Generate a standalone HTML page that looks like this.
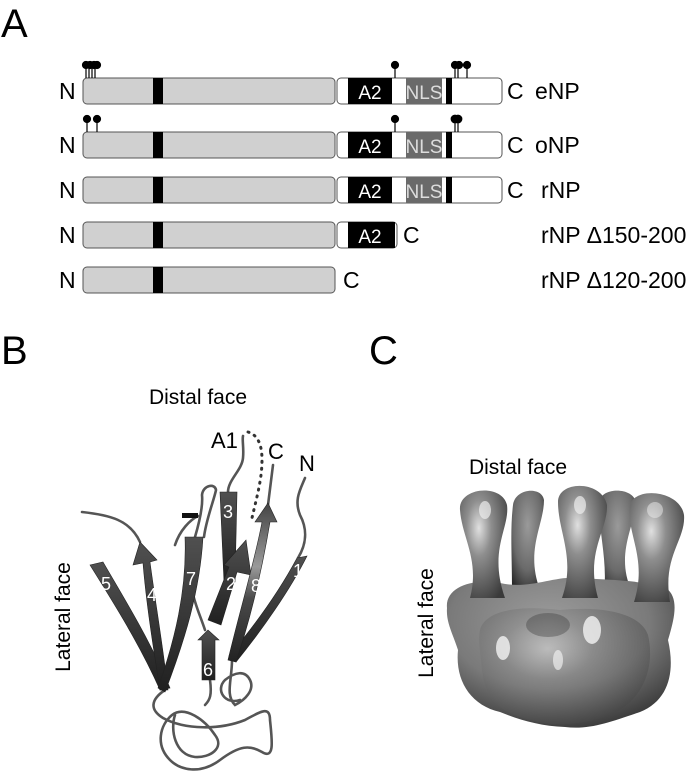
<!DOCTYPE html>
<html><head><meta charset="utf-8"><style>
body{margin:0;background:#fff}
svg{display:block}
text{font-family:"Liberation Sans",sans-serif}
</style></head><body>
<svg width="697" height="784" viewBox="0 0 697 784" xmlns="http://www.w3.org/2000/svg">
<defs>
<radialGradient id="g1" cx="0.4" cy="0.35" r="0.75"><stop offset="0" stop-color="#e0e0e0"/><stop offset="0.35" stop-color="#8e8e8e"/><stop offset="1" stop-color="#3a3a3a"/></radialGradient>
<radialGradient id="g2" cx="0.5" cy="0.35" r="0.75"><stop offset="0" stop-color="#9a9a9a"/><stop offset="0.6" stop-color="#6a6a6a"/><stop offset="1" stop-color="#252525"/></radialGradient>
<radialGradient id="g3" cx="0.45" cy="0.3" r="0.8"><stop offset="0" stop-color="#9c9c9c"/><stop offset="0.55" stop-color="#7a7a7a"/><stop offset="1" stop-color="#2a2a2a"/></radialGradient>
<linearGradient id="sg" x1="0" y1="0" x2="0" y2="1"><stop offset="0" stop-color="#505050"/><stop offset="1" stop-color="#202020"/></linearGradient>
<linearGradient id="s8" x1="0" y1="0" x2="0" y2="1"><stop offset="0" stop-color="#444"/><stop offset="0.4" stop-color="#9a9a9a"/><stop offset="0.6" stop-color="#4a4a4a"/><stop offset="1" stop-color="#222"/></linearGradient>
</defs>

<text x="1" y="37" font-size="40">A</text>
<text x="1" y="364" font-size="40">B</text>
<text x="369" y="364" font-size="40">C</text>

<g font-size="23">
<g>
<rect x="83" y="78" width="252" height="26" rx="4" fill="#d0d0d0" stroke="#555"/>
<rect x="153" y="78" width="10" height="26" fill="#000"/>
<rect x="337" y="78" width="165" height="26" rx="4" fill="#fff" stroke="#555"/>
<rect x="348" y="78" width="44" height="26" fill="#000"/>
<rect x="406" y="78" width="36" height="26" fill="#6a6a6a"/>
<rect x="446" y="78" width="6" height="26" fill="#000"/>
<text x="370" y="99" fill="#fff" text-anchor="middle" font-size="19">A2</text>
<text x="424" y="99" fill="#ddd" text-anchor="middle" font-size="19">NLS</text>
<text x="59" y="99">N</text><text x="507" y="99">C</text><text x="535" y="99">eNP</text>
</g>
<g>
<rect x="83" y="132" width="252" height="26" rx="4" fill="#d0d0d0" stroke="#555"/>
<rect x="153" y="132" width="10" height="26" fill="#000"/>
<rect x="337" y="132" width="165" height="26" rx="4" fill="#fff" stroke="#555"/>
<rect x="348" y="132" width="44" height="26" fill="#000"/>
<rect x="406" y="132" width="36" height="26" fill="#6a6a6a"/>
<rect x="446" y="132" width="6" height="26" fill="#000"/>
<text x="370" y="153" fill="#fff" text-anchor="middle" font-size="19">A2</text>
<text x="424" y="153" fill="#ddd" text-anchor="middle" font-size="19">NLS</text>
<text x="59" y="153">N</text><text x="507" y="153">C</text><text x="535" y="153">oNP</text>
</g>
<g>
<rect x="83" y="177" width="252" height="26" rx="4" fill="#d0d0d0" stroke="#555"/>
<rect x="153" y="177" width="10" height="26" fill="#000"/>
<rect x="337" y="177" width="165" height="26" rx="4" fill="#fff" stroke="#555"/>
<rect x="348" y="177" width="44" height="26" fill="#000"/>
<rect x="406" y="177" width="36" height="26" fill="#6a6a6a"/>
<rect x="446" y="177" width="6" height="26" fill="#000"/>
<text x="370" y="198" fill="#fff" text-anchor="middle" font-size="19">A2</text>
<text x="424" y="198" fill="#ddd" text-anchor="middle" font-size="19">NLS</text>
<text x="59" y="198">N</text><text x="507" y="198">C</text><text x="541" y="198">rNP</text>
</g>
<g>
<rect x="83" y="222" width="252" height="26" rx="4" fill="#d0d0d0" stroke="#555"/>
<rect x="153" y="222" width="10" height="26" fill="#000"/>
<rect x="337" y="222" width="60" height="26" rx="4" fill="#fff" stroke="#555"/>
<rect x="348" y="222" width="47" height="26" fill="#000"/>
<text x="370" y="243" fill="#fff" text-anchor="middle" font-size="19">A2</text>
<text x="59" y="243">N</text><text x="403" y="243">C</text><text x="541" y="243">rNP Δ150-200</text>
</g>
<g>
<rect x="83" y="267" width="252" height="26" rx="4" fill="#d0d0d0" stroke="#555"/>
<rect x="153" y="267" width="10" height="26" fill="#000"/>
<text x="59" y="288">N</text><text x="343" y="288">C</text><text x="541" y="288">rNP Δ120-200</text>
</g>
</g>
<g stroke="#000" stroke-width="1.2" fill="#000">
<line x1="86" y1="66" x2="86" y2="78"/><line x1="89" y1="66" x2="89" y2="78"/><line x1="92" y1="66" x2="92" y2="78"/><line x1="95" y1="66" x2="95" y2="78"/>
<circle cx="86" cy="65" r="3.5"/><circle cx="90" cy="65" r="3.5"/><circle cx="94" cy="65" r="3.5"/><circle cx="97" cy="65" r="3.5"/>
<line x1="395" y1="66" x2="395" y2="78"/><circle cx="395" cy="65" r="3.5"/>
<line x1="455" y1="66" x2="455" y2="78"/><line x1="458" y1="66" x2="458" y2="78"/><line x1="467" y1="66" x2="467" y2="78"/>
<circle cx="455" cy="65" r="3.5"/><circle cx="459" cy="65" r="3.5"/><circle cx="467" cy="65" r="3.5"/>
<line x1="87" y1="120" x2="87" y2="132"/><line x1="97" y1="120" x2="97" y2="132"/>
<circle cx="87" cy="119" r="3.5"/><circle cx="97" cy="119" r="3.5"/>
<line x1="395" y1="120" x2="395" y2="132"/><circle cx="395" cy="119" r="3.5"/>
<line x1="455" y1="120" x2="455" y2="132"/><line x1="458" y1="120" x2="458" y2="132"/>
<circle cx="455" cy="119" r="3.8"/><circle cx="458" cy="119" r="3.8"/>
</g>

<!-- Panel B -->
<text x="198" y="404" font-size="21" text-anchor="middle">Distal face</text>
<text transform="translate(70,617) rotate(-90)" font-size="21" text-anchor="middle">Lateral face</text>
<text x="211" y="448" font-size="22">A1</text>
<text x="268" y="459" font-size="22">C</text>
<text x="299" y="471" font-size="22">N</text>
<g fill="none" stroke="#555" stroke-width="2.6" stroke-linecap="round">
<path d="M228 492 C228 480 242 470 243 458 C244 448 242 440 243 436"/>
<path d="M268 505 L273 465"/>
<path d="M298 558 C306 545 308 530 300 515 C294 500 300 490 305 478"/>
<path d="M140 542 C130 520 110 515 82 512"/>
<path d="M195 537 C200 520 203 505 202 495 C203 485 215 483 216 490 C214 500 206 520 204 537"/>
<path d="M175 545 C180 530 190 520 198 516"/>
<path d="M165 690 C150 700 150 710 163 718 C185 730 220 730 245 720 C260 712 270 705 270 720 C272 740 275 760 262 752 C250 745 240 745 220 760 C200 775 180 770 170 760 C155 745 160 725 172 715 C185 705 205 720 215 735 C225 748 210 758 195 757 C175 755 170 730 175 715"/>
<path d="M210 680 C212 695 210 700 205 705"/>
<path d="M232 660 C232 680 225 695 235 705 C245 700 255 690 250 680 C245 670 235 672 225 680 C215 690 225 705 240 700"/>
<path d="M205 630 C200 615 195 605 192 590"/>
</g>
<rect x="182" y="513" width="16" height="5" fill="#111"/>
<path d="M248 432 C258 435 262 445 262 460 C262 480 256 500 252 518" fill="none" stroke="#333" stroke-width="3" stroke-dasharray="1 6" stroke-linecap="round"/>
<g fill="url(#sg)" stroke="#222" stroke-width="0.6">
<path d="M90 565 L103 562 C125 600 150 640 170 688 L160 690 C140 645 115 605 90 565 Z"/>
<path d="M140 542 L157 560 L150 562 C155 600 162 640 168 690 L160 690 C152 640 146 600 143 563 L133 565 Z"/>
<path d="M185 537 L203 537 C200 590 185 640 165 692 L158 688 C175 640 187 590 185 537 Z"/>
<path d="M220 492 L237 492 L235 582 L224 582 Z"/>
<path d="M208 620 L221 625 L237 572 L251 575 L246 540 L224 565 L229 567 Z"/>
<path d="M297 558 L307 556 C290 590 262 630 236 662 L229 656 C255 625 280 590 297 558 Z"/>
<path d="M202 680 L215 680 L215 640 L219 640 L208 630 L198 640 L202 640 Z"/>
</g>
<path d="M228 660 C240 610 255 560 262 522 L255 522 L268 503 L277 522 L270 522 C262 570 250 620 236 662 Z" fill="url(#s8)" stroke="#222" stroke-width="0.6"/>
<g fill="#fff" font-size="18" text-anchor="middle">
<text x="106" y="590">5</text><text x="152" y="601">4</text><text x="191" y="585">7</text>
<text x="228" y="518">3</text><text x="231" y="590">2</text><text x="256" y="592">8</text>
<text x="298" y="577">1</text><text x="208" y="676">6</text>
</g>

<!-- Panel C -->
<text x="518" y="474" font-size="21" text-anchor="middle">Distal face</text>
<text transform="translate(433,623) rotate(-90)" font-size="21" text-anchor="middle">Lateral face</text>
<g>
<path d="M513 505 C515 488 542 486 544 500 C544 525 525 550 540 590 L512 590 C512 555 510 530 513 505 Z" fill="url(#g2)"/>
<path d="M600 500 C603 487 634 487 636 503 C634 528 615 555 632 592 L604 592 C608 558 597 528 600 500 Z" fill="url(#g2)"/>
<path d="M447 608 C445 588 470 578 500 583 C530 590 555 575 580 578 C610 580 640 580 666 588 C680 598 674 620 668 640 C675 670 670 700 640 712 C610 722 590 730 565 727 C540 726 520 720 500 712 C470 705 455 680 458 650 C452 632 446 622 447 608 Z" fill="url(#g3)"/>
<path d="M480 630 C485 610 520 605 560 610 C600 606 640 612 648 635 C655 665 645 700 610 715 C585 724 555 728 530 720 C500 712 485 700 482 670 C480 650 478 640 480 630 Z" fill="url(#g1)" opacity="0.55"/>
<path d="M460 510 C458 487 502 483 507 505 C510 528 488 550 505 598 L470 598 C480 560 462 538 460 510 Z" fill="url(#g1)"/>
<path d="M558 502 C558 480 602 480 607 505 C608 530 585 552 598 598 L562 598 C576 558 558 532 558 502 Z" fill="url(#g1)"/>
<path d="M630 505 C635 486 680 490 684 515 C686 540 662 556 670 602 L634 602 C648 558 626 534 630 505 Z" fill="url(#g1)"/>
<ellipse cx="548" cy="625" rx="22" ry="12" fill="#333" opacity="0.35"/>
<ellipse cx="503" cy="648" rx="7" ry="12" fill="#f4f4f4" opacity="0.8"/>
<ellipse cx="592" cy="630" rx="9" ry="14" fill="#f4f4f4" opacity="0.8"/>
<ellipse cx="558" cy="660" rx="5" ry="10" fill="#eee" opacity="0.7"/>
<ellipse cx="485" cy="510" rx="6" ry="9" fill="#eee" opacity="0.7"/>
<ellipse cx="580" cy="505" rx="6" ry="9" fill="#eee" opacity="0.7"/>
<ellipse cx="655" cy="510" rx="8" ry="8" fill="#eee" opacity="0.5"/>
</g>
</svg>
</body></html>
